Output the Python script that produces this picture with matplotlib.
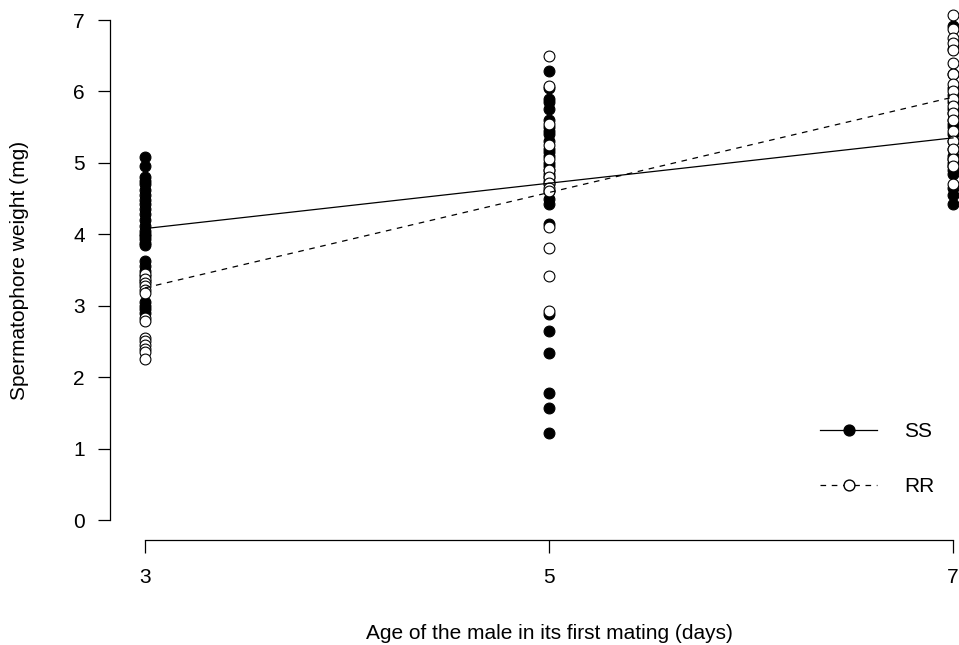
import matplotlib
matplotlib.use("Agg")
import matplotlib.pyplot as plt
from matplotlib.lines import Line2D

plt.rcParams['font.family'] = ['Liberation Sans', 'DejaVu Sans']

# ---- data ----
ages = [3, 5, 7]
ss_age3 = [5.08, 4.95, 4.80, 4.75, 4.70, 4.62, 4.55, 4.48, 4.42, 4.35, 4.28, 4.20, 4.12,
           4.05, 4.00, 3.97, 3.93, 3.88, 3.85, 3.62, 3.55, 3.48, 3.42, 3.35, 3.05, 3.00,
           2.95, 2.90]
rr_age3 = [3.45, 3.38, 3.32, 3.28, 3.22, 3.18, 2.83, 2.78, 2.55, 2.50, 2.45, 2.40, 2.35, 2.25]
ss_age5 = [6.29, 6.05, 5.90, 5.85, 5.75, 5.60, 5.50, 5.45, 5.40, 5.30, 5.20, 5.15, 5.10,
           5.00, 4.95, 4.90, 4.85, 4.80, 4.75, 4.70, 4.60, 4.50, 4.42, 4.15, 2.88, 2.65,
           2.34, 1.78, 1.57, 1.22]
rr_age5 = [6.49, 6.07, 5.55, 5.25, 5.05, 4.90, 4.80, 4.72, 4.65, 4.60, 4.10, 3.81, 3.41, 2.92]
ss_age7 = [6.92, 6.60, 6.25, 6.05, 5.95, 5.85, 5.75, 5.70, 5.60, 5.55, 5.50, 5.40, 5.30,
           5.20, 5.10, 5.05, 5.00, 4.95, 4.90, 4.85, 4.65, 4.55, 4.42]
rr_age7 = [7.07, 6.88, 6.75, 6.68, 6.58, 6.40, 6.25, 6.10, 6.00, 5.90, 5.80, 5.70, 5.60,
           5.45, 5.30, 5.20, 5.05, 4.95, 4.70]
fit_x = [3, 7]
ss_fit = [4.08, 5.35]
rr_fit = [3.25, 5.92]
yticks = [0, 1, 2, 3, 4, 5, 6, 7]
xticks = [3, 5, 7]

W, H = 959, 645
fig = plt.figure(figsize=(W / 100, H / 100), dpi=100)
ax = fig.add_axes([110 / W, (H - 540) / H, (W - 110) / W, 540 / H])

px_per_x = (953 - 145) / 4
px_per_y = (520 - 20) / 7
ax.set_xlim(3 - (145 - 110) / px_per_x, 7 + (959 - 953) / px_per_x)
ax.set_ylim(0 - (540 - 520) / px_per_y, 7 + 20 / px_per_y)

fs = 15
ms = 7.8
mew = 0.8
for age, ss, rr in zip(ages, [ss_age3, ss_age5, ss_age7], [rr_age3, rr_age5, rr_age7]):
    ax.plot([age] * len(ss), ss, 'o', color='black', ms=ms, mew=mew, clip_on=False, zorder=3)
    ax.plot([age] * len(rr), rr, 'o', mfc='white', mec='black', ms=ms, mew=mew,
            clip_on=False, zorder=4)

ax.plot(fit_x, ss_fit, '-', color='black', lw=0.9, zorder=5)
ax.plot(fit_x, rr_fit, color='black', lw=0.9, ls=(0, (4.5, 4.5)), zorder=5)

for s in ['top', 'right']:
    ax.spines[s].set_visible(False)
ax.spines['left'].set_bounds(0, 7)
ax.spines['bottom'].set_bounds(3, 7)
ax.spines['left'].set_linewidth(0.9)
ax.spines['bottom'].set_linewidth(0.9)
ax.set_xticks(xticks)
ax.set_yticks(yticks)
ax.set_xticklabels([str(t) for t in xticks])
ax.set_yticklabels([str(t) for t in yticks])
ax.tick_params(axis='both', length=9, width=0.9, labelsize=fs)
ax.tick_params(axis='x', pad=11)
ax.tick_params(axis='y', pad=9)

ax.set_xlabel('Age of the male in its first mating (days)', fontsize=fs, labelpad=26.5)
ax.xaxis.label.set_x((549 - 110) / (W - 110))
ax.set_ylabel('Spermatophore weight (mg)', fontsize=fs, labelpad=32)

handles = [
    Line2D([0], [0], color='black', lw=0.9, marker='o', mfc='black', mec='black', ms=ms),
    Line2D([0], [0], color='black', lw=0.9, ls=(0, (4.5, 4.5)), marker='o', mfc='white',
           mec='black', ms=ms),
]
leg = ax.legend(handles, ['SS', 'RR'], loc='upper left',
                bbox_to_anchor=(820 / W, 1 - 422 / H), bbox_transform=fig.transFigure,
                frameon=False, fontsize=fs, handlelength=2.75, handletextpad=1.3,
                labelspacing=1.75, borderpad=0, borderaxespad=0)

fig.savefig('out.png', dpi=100)
